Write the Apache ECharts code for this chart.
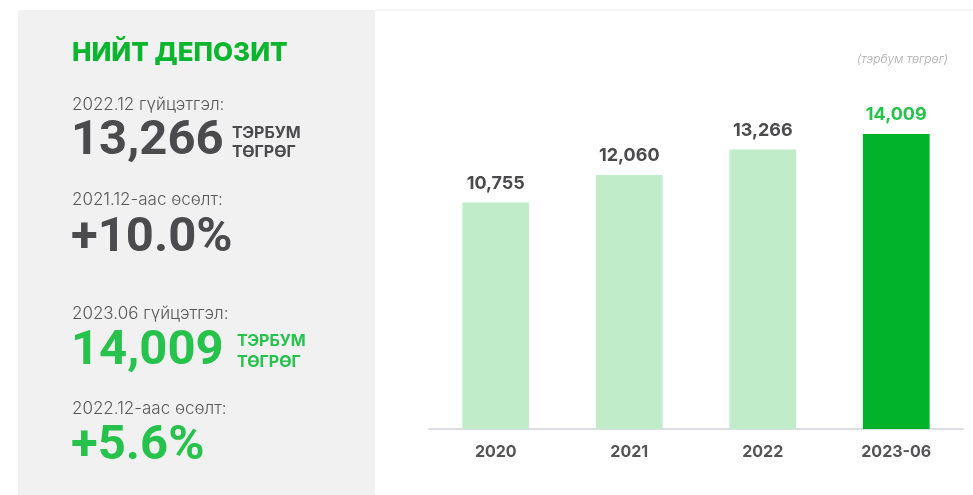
<!DOCTYPE html>
<html>
<head>
<meta charset="utf-8">
<script src="https://cdn.jsdelivr.net/npm/echarts@6/dist/echarts.min.js"></script>
<style>
  html, body { margin: 0; padding: 0; background: #fff; }
  #chart { width: 973px; height: 495px; }
</style>
</head>
<body>
<div id="chart"></div>
<script>
// chart data
const categories = ['2020', '2021', '2022', '2023-06']
const deposits = [10755, 12060, 13266, 14009]
const highlightIndex = 3

// left summary panel texts
const titleText = 'НИЙТ ДЕПОЗИТ'
const unitText = '(тэрбум төгрөг)'
const summaryLabels = ['2022.12 гүйцэтгэл:', '2021.12-аас өсөлт:', '2023.06 гүйцэтгэл:', '2022.12-аас өсөлт:']
const summaryValues = ['13,266', '+10.0%', '14,009', '+5.6%']
const unitLines = ['ТЭРБУМ', 'ТӨГРӨГ']

const FONT = 'Inter, "Noto Sans", sans-serif'
const BIG_FONT = 'Roboto, Inter, sans-serif'
const DARK = '#4b4b4d'
const GREY = '#58585a'
const GREEN_TEXT = '#27c24c'
const GREEN_BAR = '#00b32a'
const LIGHT_BAR = '#c0ecca'

const chart = echarts.init(document.getElementById('chart'))

const fmt = v => Number(v).toLocaleString('en-US')

// small helper for the panel texts
const txt = (x, y, text, font, color, align) => ({
  type: 'text',
  x: x,
  y: y,
  style: { text: text, fill: color, font: font, align: align || 'left', verticalAlign: 'middle' }
})

const labelFont = `300 17px ${FONT}`
const bigFont = `700 49px ${BIG_FONT}`
const unitFont = `700 16px ${FONT}`

const graphics = [
  { type: 'rect', shape: { x: 18, y: 10, width: 357, height: 485 }, style: { fill: '#f1f1f1' }, z: -1 },
  { type: 'line', shape: { x1: 375, y1: 10, x2: 973, y2: 10 }, style: { stroke: '#eeeeee', lineWidth: 1 } },
  txt(72, 53, titleText, `800 26px ${FONT}`, '#0cb52e'),
  txt(72, 105, summaryLabels[0], labelFont, GREY),
  txt(71, 142, summaryValues[0], bigFont, DARK),
  txt(232, 133, unitLines[0], unitFont, DARK),
  txt(232, 152, unitLines[1], unitFont, DARK),
  txt(72, 200, summaryLabels[1], labelFont, GREY),
  txt(71, 239, summaryValues[1], bigFont, DARK),
  txt(72, 314, summaryLabels[2], labelFont, GREY),
  txt(71, 352, summaryValues[2], bigFont, GREEN_TEXT),
  txt(237, 341, unitLines[0], unitFont, GREEN_TEXT),
  txt(237, 362, unitLines[1], unitFont, GREEN_TEXT),
  txt(72, 409, summaryLabels[3], labelFont, GREY),
  txt(71, 447, summaryValues[3], bigFont, GREEN_TEXT),
  txt(948, 59, unitText, `italic 300 12px ${FONT}`, '#ababab', 'right')
]

const option = {
  backgroundColor: '#ffffff',
  animation: false,
  graphic: graphics,
  grid: { left: 429, right: 10, top: 92, bottom: 66 },
  xAxis: {
    type: 'category',
    data: categories,
    axisLine: { lineStyle: { color: '#dcdde3', width: 2 } },
    axisTick: { show: false },
    axisLabel: {
      margin: 15,
      fontFamily: FONT,
      fontSize: 16,
      fontWeight: 700,
      color: '#555557'
    }
  },
  yAxis: {
    type: 'value',
    min: 0,
    max: 16000,
    show: false,
    splitLine: { show: false }
  },
  series: [
    {
      type: 'bar',
      barWidth: '50%',
      data: deposits.map((v, i) => ({
        value: v,
        itemStyle: { color: i === highlightIndex ? GREEN_BAR : LIGHT_BAR },
        label: { color: i === highlightIndex ? GREEN_TEXT : DARK }
      })),
      label: {
        show: true,
        position: 'top',
        distance: 10,
        fontFamily: FONT,
        fontSize: 18,
        fontWeight: 700,
        formatter: p => fmt(p.value)
      }
    }
  ]
}

chart.setOption(option)
</script>
</body>
</html>
